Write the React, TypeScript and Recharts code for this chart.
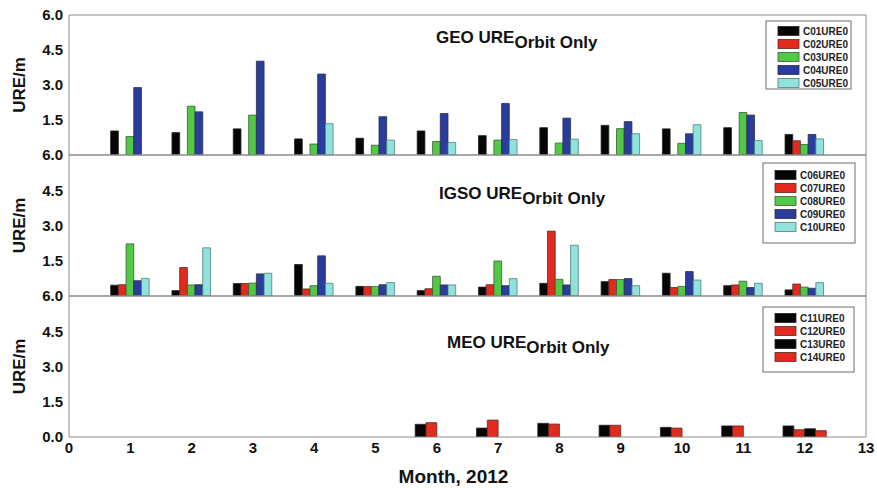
import React from "react";
import { BarChart, Bar, XAxis, YAxis } from "recharts";

const months = [1, 2, 3, 4, 5, 6, 7, 8, 9, 10, 11, 12];
const monthTicks = [0, 1, 2, 3, 4, 5, 6, 7, 8, 9, 10, 11, 12, 13];
const ureTicks = [0, 1.5, 3, 4.5, 6];

// GEO satellites
const c01 = [1.03, 0.96, 1.12, 0.69, 0.72, 1.03, 0.83, 1.17, 1.27, 1.12, 1.17, 0.88];
const c02 = [null, null, null, null, null, null, null, null, null, null, null, 0.61];
const c03 = [0.79, 2.09, 1.71, 0.47, 0.42, 0.58, 0.64, 0.51, 1.13, 0.5, 1.82, 0.45];
const c04 = [2.89, 1.85, 4.02, 3.47, 1.64, 1.78, 2.21, 1.58, 1.43, 0.91, 1.71, 0.88];
const c05 = [null, null, null, 1.34, 0.64, 0.54, 0.66, 0.68, 0.91, 1.3, 0.62, 0.69];

// IGSO satellites
const c06 = [0.46, 0.23, 0.53, 1.34, 0.41, 0.23, 0.38, 0.54, 0.61, 0.97, 0.44, 0.26];
const c07 = [0.48, 1.21, 0.53, 0.3, 0.4, 0.31, 0.48, 2.76, 0.7, 0.36, 0.47, 0.51];
const c08 = [2.22, 0.47, 0.55, 0.44, 0.4, 0.84, 1.49, 0.71, 0.7, 0.41, 0.63, 0.38];
const c09 = [0.65, 0.48, 0.94, 1.71, 0.48, 0.47, 0.44, 0.47, 0.74, 1.04, 0.36, 0.33];
const c10 = [0.75, 2.05, 0.97, 0.54, 0.57, 0.47, 0.74, 2.16, 0.44, 0.68, 0.54, 0.57];

// MEO satellites
const c11 = [null, null, null, null, null, 0.54, 0.38, 0.58, 0.5, 0.41, 0.47, 0.47];
const c12 = [null, null, null, null, null, 0.61, 0.72, 0.55, 0.5, 0.38, 0.47, 0.31];
const c13 = [null, null, null, null, null, null, null, null, null, null, null, 0.35];
const c14 = [null, null, null, null, null, null, null, null, null, null, null, 0.27];

const BLACK = "#050505";
const RED = "#e22a1f";
const GREEN = "#52c945";
const BLUE = "#2a3c9e";
const CYAN = "#90e2dc";

const FRAME = "#8a8a8a";
const W = 877;
const H = 488;
const PLOT_LEFT = 69;
const PLOT_RIGHT = 866;

const minorX = Array.from({ length: 27 }, (_, i) => i * 0.5);
const minorY = Array.from({ length: 9 }, (_, i) => i * 0.75);

type Series = { key: string; name: string; values: (number | null)[]; color: string; stroke: string };

function toRows(series: Series[]) {
  return months.map((m, i) => {
    const row: Record<string, number | null> = { month: m };
    series.forEach((s) => (row[s.key] = s.values[i]));
    return row;
  });
}

const geoSeries: Series[] = [
  { key: "c01", name: "C01URE0", values: c01, color: BLACK, stroke: "#222" },
  { key: "c02", name: "C02URE0", values: c02, color: RED, stroke: "#5a2a22" },
  { key: "c03", name: "C03URE0", values: c03, color: GREEN, stroke: "#3d5a3a" },
  { key: "c04", name: "C04URE0", values: c04, color: BLUE, stroke: "#2a3040" },
  { key: "c05", name: "C05URE0", values: c05, color: CYAN, stroke: "#4f7f7c" },
];
const igsoSeries: Series[] = [
  { key: "c06", name: "C06URE0", values: c06, color: BLACK, stroke: "#222" },
  { key: "c07", name: "C07URE0", values: c07, color: RED, stroke: "#5a2a22" },
  { key: "c08", name: "C08URE0", values: c08, color: GREEN, stroke: "#3d5a3a" },
  { key: "c09", name: "C09URE0", values: c09, color: BLUE, stroke: "#2a3040" },
  { key: "c10", name: "C10URE0", values: c10, color: CYAN, stroke: "#4f7f7c" },
];
const meoSeries: Series[] = [
  { key: "c11", name: "C11URE0", values: c11, color: BLACK, stroke: "#222" },
  { key: "c12", name: "C12URE0", values: c12, color: RED, stroke: "#5a2a22" },
  { key: "c13", name: "C13URE0", values: c13, color: BLACK, stroke: "#222" },
  { key: "c14", name: "C14URE0", values: c14, color: RED, stroke: "#5a2a22" },
];

type PanelProps = {
  series: Series[];
  top: number;
  bottom: number;
  prefix: string;
  titleX: number;
  titleY: number;
  legend: { x: number; y: number; w: number; h: number; row0: number; step: number };
  barSize: number;
  last?: boolean;
};

function Panel({ series, top, bottom, prefix, titleX, titleY, legend, barSize, last }: PanelProps) {
  const data = toRows(series);
  const axisBottom = last ? H - bottom : 0;
  const cy = (top + bottom) / 2;
  return (
    <div style={{ position: "absolute", left: 0, top: 0 }}>
      <BarChart
        width={W}
        height={H}
        data={data}
        barSize={barSize}
        barGap={0}
        margin={{ top, bottom: last ? 0 : H - bottom, left: 0, right: W - PLOT_RIGHT }}
      >
        <XAxis
          xAxisId="x"
          dataKey="month"
          type="number"
          domain={[0, 13]}
          ticks={monthTicks}
          allowDataOverflow
          hide={!last}
          height={axisBottom}
          axisLine={false}
          tickLine={false}
          tickSize={0}
          tickMargin={5}
          tick={{ fontSize: 15, fontWeight: 700, fill: "#111" }}
          label={
            last
              ? { value: "Month, 2012", position: "insideBottom", offset: 5, dx: -14, style: { fontSize: 19, fontWeight: 700, fill: "#111" } }
              : undefined
          }
        />
        <XAxis
          xAxisId="xb"
          type="number"
          domain={[0, 13]}
          ticks={minorX}
          allowDataOverflow
          mirror
          tick={false}
          tickSize={3}
          stroke={FRAME}
        />
        <XAxis
          xAxisId="xt"
          orientation="top"
          type="number"
          domain={[0, 13]}
          ticks={minorX}
          allowDataOverflow
          mirror
          tick={false}
          tickSize={3}
          stroke={FRAME}
        />
        <YAxis
          yAxisId="y"
          type="number"
          domain={[0, 6]}
          ticks={ureTicks}
          allowDataOverflow
          width={PLOT_LEFT}
          tickLine={false}
          tickSize={0}
          tickMargin={6}
          stroke={FRAME}
          tick={{ fontSize: 15, fontWeight: 700, fill: "#111" }}
          tickFormatter={(v: number) => (v === 0 && !last ? "" : v.toFixed(1))}
        />
        <YAxis
          yAxisId="yl"
          type="number"
          domain={[0, 6]}
          ticks={minorY}
          allowDataOverflow
          mirror
          tick={false}
          axisLine={false}
          tickSize={3}
          stroke={FRAME}
        />
        <YAxis
          yAxisId="yr"
          orientation="right"
          type="number"
          domain={[0, 6]}
          ticks={minorY}
          allowDataOverflow
          mirror
          tick={false}
          tickSize={3}
          stroke={FRAME}
        />
        {series.map((s) => (
          <Bar
            key={s.key}
            xAxisId="x"
            yAxisId="y"
            dataKey={s.key}
            name={s.name}
            fill={s.color}
            stroke={s.stroke}
            strokeWidth={0.8}
            isAnimationActive={false}
          />
        ))}
        <text
          x={25}
          y={cy}
          transform={`rotate(-90 25 ${cy})`}
          textAnchor="middle"
          fontSize={17}
          fontWeight={700}
          fill="#111"
        >
          URE/m
        </text>
        <text x={titleX} y={titleY} fontSize={17} fontWeight={700} fill="#111">
          {prefix} URE
          <tspan dy={5}>Orbit Only</tspan>
        </text>
        <g>
          <rect x={legend.x} y={legend.y} width={legend.w} height={legend.h} fill="#fff" stroke="#6d6d6d" strokeWidth={1} />
          {series.map((s, i) => {
            const ry = legend.y + legend.row0 + i * legend.step;
            return (
              <g key={s.key}>
                <rect x={legend.x + 12} y={ry - 4.5} width={21} height={9} fill={s.color} stroke={s.stroke} strokeWidth={0.8} />
                <text x={legend.x + 37} y={ry + 3.6} fontSize={10} fontWeight={700} fill="#222">
                  {s.name}
                </text>
              </g>
            );
          })}
        </g>
      </BarChart>
    </div>
  );
}

export default function App() {
  return (
    <div
      style={{
        position: "absolute",
        left: 0,
        top: 0,
        width: W,
        height: H,
        background: "#fff",
        fontFamily: "'Liberation Sans', Arial, sans-serif",
      }}
    >
      <Panel
        series={geoSeries}
        top={15}
        bottom={155}
        prefix="GEO"
        titleX={436}
        titleY={43}
        legend={{ x: 766, y: 21, w: 85, h: 68, row0: 10, step: 13 }}
        barSize={7.7}
      />
      <Panel
        series={igsoSeries}
        top={155}
        bottom={296}
        prefix="IGSO"
        titleX={439}
        titleY={199}
        legend={{ x: 763, y: 163, w: 92, h: 80, row0: 12, step: 13 }}
        barSize={7.7}
      />
      <Panel
        series={meoSeries}
        top={296}
        bottom={437}
        prefix="MEO"
        titleX={447}
        titleY={348}
        legend={{ x: 763, y: 307, w: 91, h: 65, row0: 11, step: 13 }}
        barSize={10.8}
        last
      />
    </div>
  );
}
